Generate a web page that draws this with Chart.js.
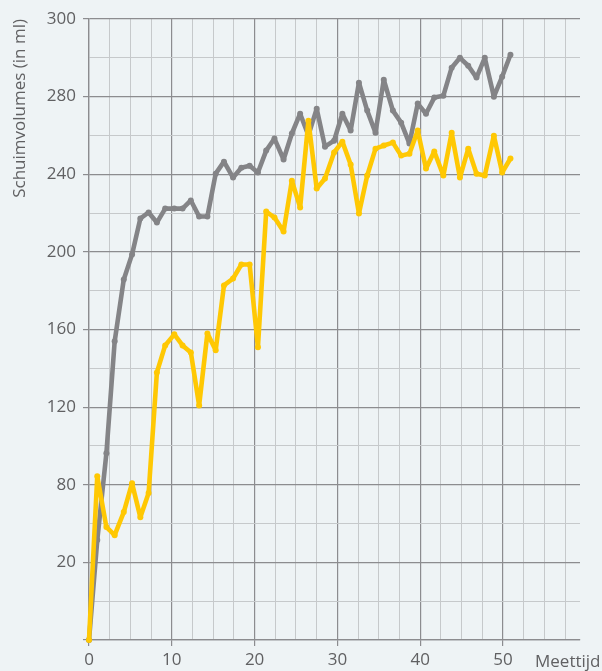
<!DOCTYPE html>
<html>
<head>
<meta charset="utf-8">
<script src="https://cdn.jsdelivr.net/npm/chart.js@4/dist/chart.umd.min.js"></script>
<style>
  html, body { margin: 0; padding: 0; background: #eef3f5; }
  #wrap { width: 602px; height: 671px; position: relative; }
</style>
</head>
<body>
<div id="wrap"><canvas id="c" width="602" height="671"></canvas></div>
<script>
// Measurement times (x values)
const times = [0,1.0,2.1,3.1,4.2,5.2,6.2,7.2,8.2,9.2,10.3,
  11.3,12.3,13.3,14.3,15.3,16.3,17.4,18.4,19.4,20.4,
  21.4,22.4,23.5,24.5,25.5,26.5,27.5,28.5,29.6,30.6,
  31.6,32.6,33.6,34.6,35.6,36.7,37.7,38.7,39.7,40.7,
  41.7,42.8,43.8,44.8,45.8,46.8,47.8,48.9,49.9,50.9];

// Grey series
const greyValues = [0,51.5,96.2,153.9,185.8,198.7,217.2,220.3,215.1,222.3,222.3,
  222.3,226.5,218.2,218.2,240.3,246.5,238.3,243.4,244.4,240.9,
  252.2,258.4,247.6,261,271.2,260,273.8,254.2,257.3,271.2,
  262.5,287.2,272.8,261.4,288.7,272.8,266.6,255.8,276.4,271.2,
  279.5,280.5,294.9,300,295.9,289.8,300,280,290.3,301.6];

// Yellow series
const yellowValues = [0,84.4,58.2,54.0,65.9,80.8,63.3,75.7,137.9,151.8,157.5,
  151.8,148.2,120.9,158,149.3,182.7,186.3,193.5,193.5,150.8,
  220.8,217.7,210.5,236.7,222.9,267.6,232.6,237.8,251.2,256.8,
  245,219.8,239.3,253.2,254.8,256.3,249.6,250.6,262.5,242.9,
  251.7,239.3,261.4,238.3,253.2,240.3,239.3,259.9,240.9,248.1];

// Tick labels as printed on the chart
const yTickValues = [40,80,120,160,200,240,280,320];
const yTickLabels = ["20","80","120","160","200","240","280","300"];
const xTickValues = [0,10,20,30,40,50];
const xTickLabels = ["0","10","20","30","40","50"];
const yTitle = "Schuimvolumes (in ml)";
const xTitle = "Meettijd";

const toPts = (vals) => vals.map((v, i) => ({ x: times[i], y: v }));

const DARK = '#8c8c8f';
const LIGHT = '#c6c9cb';
const TEXT = '#606062';
const FONT = "'Open Sans', 'Noto Sans', sans-serif";

const xTitlePlugin = {
  id: 'xTitlePlugin',
  afterDraw(chart) {
    const ctx = chart.ctx;
    const xs = chart.scales.x;
    ctx.save();
    ctx.font = "17px " + FONT;
    ctx.fillStyle = TEXT;
    ctx.textAlign = 'left';
    ctx.textBaseline = 'middle';
    ctx.fillText(xTitle, chart.chartArea.right - 45, xs.top + 22);
    ctx.restore();
  }
};

new Chart(document.getElementById('c'), {
  type: 'line',
  data: {
    datasets: [
      {
        label: 'geel',
        data: toPts(yellowValues),
        borderColor: '#ffc803',
        backgroundColor: '#ffc803',
        borderWidth: 4.6,
        pointRadius: 3,
        pointBorderWidth: 0,
        borderJoinStyle: 'round',
        borderCapStyle: 'round',
        tension: 0,
        clip: false
      },
      {
        label: 'grijs',
        data: toPts(greyValues),
        borderColor: '#848487',
        backgroundColor: '#848487',
        borderWidth: 4.6,
        pointRadius: 3,
        pointBorderWidth: 0,
        borderJoinStyle: 'round',
        borderCapStyle: 'round',
        tension: 0,
        clip: false
      }
    ]
  },
  options: {
    responsive: false,
    animation: false,
    events: [],
    layout: { padding: { top: 19, right: 22, left: 0, bottom: 0 } },
    plugins: { legend: { display: false }, tooltip: { enabled: false } },
    scales: {
      x: {
        type: 'linear',
        min: 0,
        max: 59.3,
        afterFit(s) { s.height = 31; },
        border: { color: DARK, width: 1.3 },
        grid: {
          color: (c) => (c.tick && c.tick.value % 10 === 0) ? DARK : LIGHT,
          lineWidth: (c) => (c.tick && c.tick.value % 10 === 0) ? 1.2 : 1,
          tickColor: (c) => (c.tick && c.tick.value % 10 === 0) ? DARK : 'rgba(0,0,0,0)',
          tickLength: 6
        },
        ticks: {
          stepSize: 2.5,
          includeBounds: false,
          autoSkip: false,
          maxRotation: 0,
          padding: 4,
          color: TEXT,
          font: { family: FONT, size: 17 },
          callback: (v) => { const i = xTickValues.indexOf(v); return i >= 0 ? xTickLabels[i] : ''; }
        }
      },
      y: {
        type: 'linear',
        min: 0,
        max: 320,
        afterFit(s) { s.width = 89; },
        border: { color: DARK, width: 1.3 },
        grid: {
          color: (c) => (c.tick && c.tick.value % 40 === 0) ? DARK : LIGHT,
          lineWidth: (c) => (c.tick && c.tick.value % 40 === 0) ? 1.2 : 1,
          tickColor: (c) => (c.tick && c.tick.value % 40 === 0) ? DARK : 'rgba(0,0,0,0)',
          tickLength: 6
        },
        ticks: {
          stepSize: 20,
          autoSkip: false,
          padding: 7,
          color: TEXT,
          font: { family: FONT, size: 17 },
          callback: (v) => { const i = yTickValues.indexOf(v); return i >= 0 ? yTickLabels[i] : ''; }
        },
        title: {
          display: true,
          text: yTitle,
          align: 'end',
          color: TEXT,
          font: { family: FONT, size: 17 },
          padding: { top: 10, bottom: 0 }
        }
      }
    }
  },
  plugins: [xTitlePlugin]
});
</script>
</body>
</html>
